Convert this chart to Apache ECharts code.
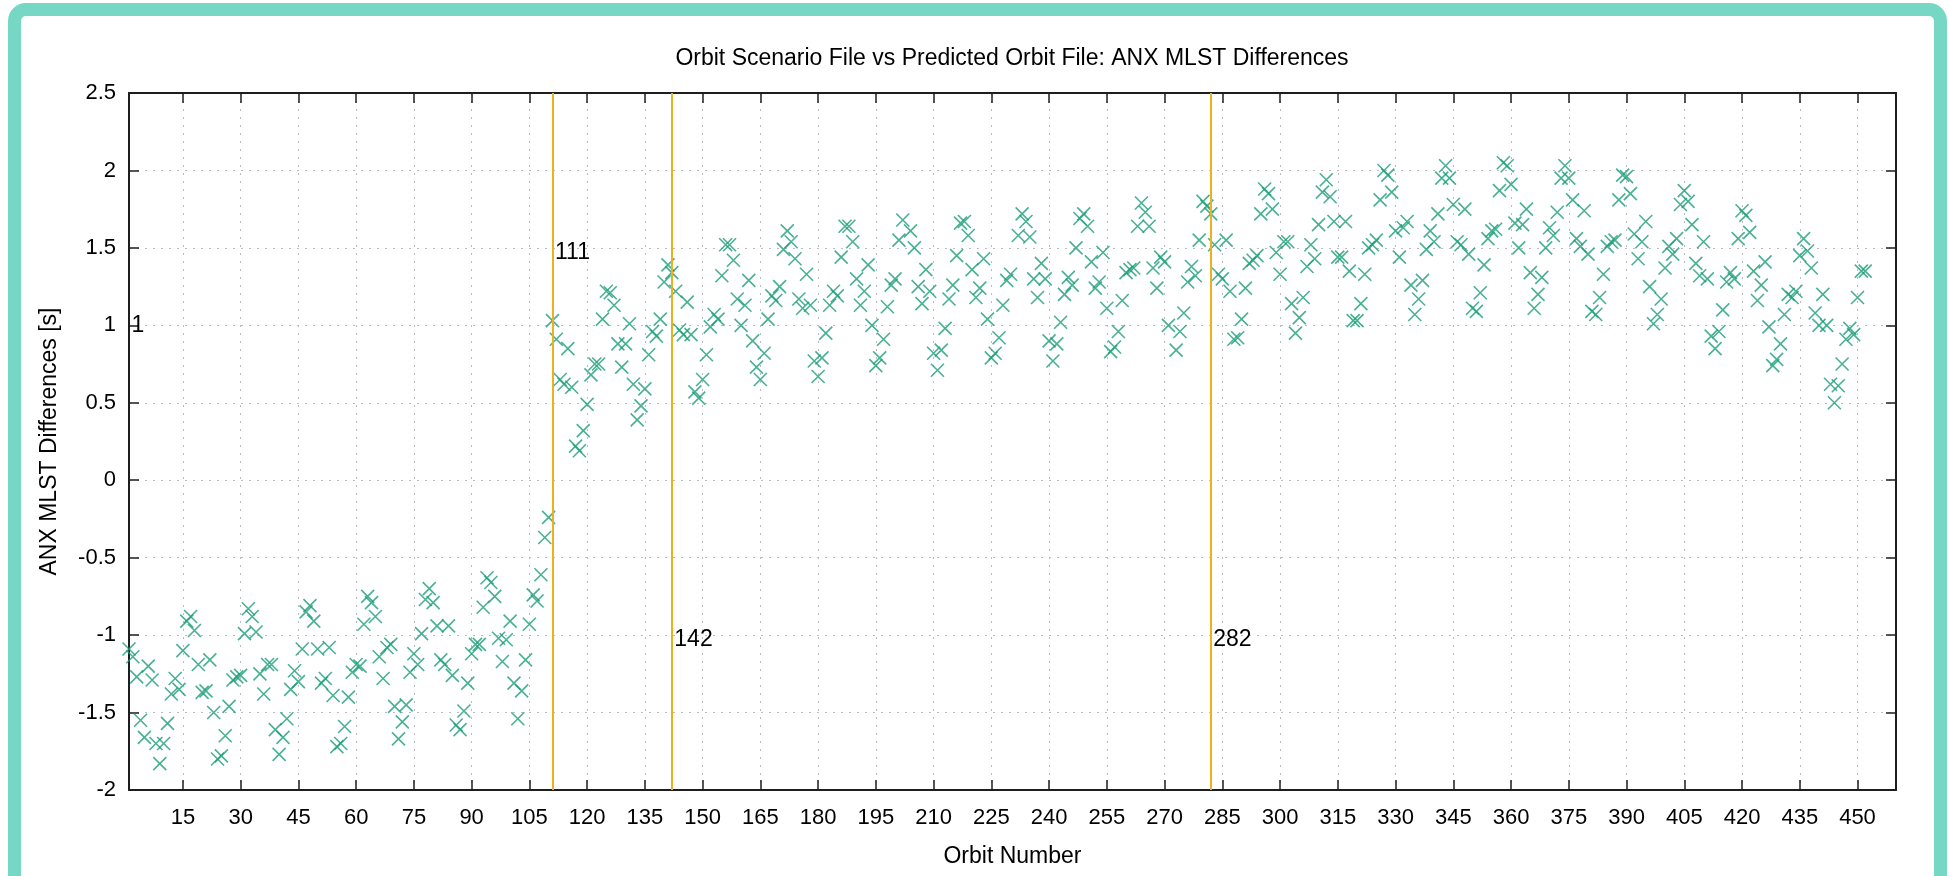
<!DOCTYPE html>
<html>
<head>
<meta charset="utf-8">
<title>ANX MLST Differences</title>
<script src="https://cdn.jsdelivr.net/npm/echarts@6/dist/echarts.min.js"></script>
<style>
  html, body { margin: 0; padding: 0; background: #fff; overflow: hidden; }
  #chart { width: 1949px; height: 876px; }
  #frame {
    position: absolute; left: 8px; top: 3px; width: 1939px; height: 890px;
    box-sizing: border-box; border: 13px solid #76d8c4; border-radius: 18px;
    pointer-events: none;
  }
</style>
</head>
<body>
<div id="chart"></div>
<div id="frame"></div>
<script>
// ANX MLST difference per orbit, starting at orbit 1 (null = no marker seen)
const firstOrbit = 1;
const mlstDiff = [
  -1.09, -1.14, -1.27, -1.55, -1.66, -1.20, -1.29, -1.70, -1.83, -1.70,
  -1.57, -1.38, -1.28, -1.35, -1.10, -0.91, -0.88, -0.97, -1.19, -1.37,
  -1.36, -1.16, -1.50, -1.80, -1.78, -1.65, -1.46, -1.29, -1.27, -1.26,
  -0.99, -0.83, -0.88, -0.98, -1.25, -1.38, -1.19, -1.19, -1.61, -1.77,
  -1.66, -1.54, -1.35, -1.23, -1.30, -1.09, -0.85, -0.81, -0.91, -1.09,
  -1.31, -1.28, -1.08, -1.39, -1.72, -1.70, -1.59, -1.40, -1.24, -1.19,
  -1.20, -0.93, -0.75, -0.79, -0.88, -1.14, -1.28, -1.08, -1.06, -1.46,
  -1.67, -1.56, -1.45, -1.24, -1.12, -1.19, -0.99, -0.77, -0.70, -0.79,
  -0.94, -1.16, -1.19, -0.94, -1.26, -1.58, -1.61, -1.49, -1.31, -1.12,
  -1.06, -1.06, -0.82, -0.63, -0.66, -0.75, -1.02, -1.17, -1.03, -0.91,
  -1.31, -1.54, -1.36, -1.16, -0.93, -0.74, -0.78, -0.61, -0.37, -0.24,
  1.03, 0.91, 0.65, 0.62, 0.85, 0.60, 0.22, 0.19, 0.32, 0.49,
  0.68, 0.75, 0.75, 1.04, 1.22, 1.21, 1.13, 0.88, 0.73, 0.88,
  1.01, 0.62, 0.39, 0.48, 0.59, 0.81, 0.96, 0.93, 1.04, 1.28,
  1.39, 1.34, 1.22, 0.97, 0.94, 1.15, 0.94, 0.57, 0.53, 0.65,
  0.81, 0.99, 1.07, 1.04, 1.32, 1.52, 1.52, 1.42, 1.17, 1.00,
  1.13, 1.29, 0.90, 0.73, 0.65, 0.82, 1.04, 1.19, 1.16, 1.25,
  1.49, 1.61, 1.54, 1.43, 1.17, 1.11, 1.33, 1.13, 0.77, 0.67,
  0.79, 0.95, 1.13, 1.22, 1.19, 1.44, 1.64, 1.64, 1.54, 1.30,
  1.13, 1.22, 1.39, 1.00, 0.74, 0.79, 0.91, 1.12, 1.26, 1.30,
  1.55, 1.68, null, 1.61, 1.50, 1.25, 1.14, 1.36, 1.22, 0.82,
  0.71, 0.84, 0.98, 1.17, 1.26, 1.45, 1.66, 1.67, 1.58, 1.36,
  1.18, 1.24, 1.43, 1.04, 0.79, 0.82, 0.92, 1.13, 1.29, 1.33,
  null, 1.58, 1.72, 1.67, 1.57, 1.30, 1.18, 1.40, 1.30, 0.90,
  0.77, 0.88, 1.02, 1.20, 1.31, 1.26, 1.50, 1.69, 1.72, 1.64,
  1.41, 1.24, 1.28, 1.47, 1.11, 0.83, 0.86, 0.96, 1.16, 1.34,
  1.36, 1.37, 1.64, 1.79, 1.73, 1.64, 1.37, 1.24, 1.44, 1.41,
  1.00, null, 0.84, 0.96, 1.08, 1.28, 1.38, 1.32, 1.55, 1.80,
  1.77, 1.72, 1.52, 1.33, 1.30, 1.55, 1.22, 0.91, 0.92, 1.04,
  1.24, 1.40, 1.42, 1.45, 1.72, 1.88, 1.85, 1.75, 1.47, 1.33,
  1.54, 1.54, 1.14, 0.95, 1.05, 1.18, 1.38, 1.52, 1.43, 1.65,
  1.86, 1.94, 1.83, 1.67, 1.44, 1.44, 1.67, 1.35, 1.03, 1.03,
  1.14, 1.33, 1.50, 1.52, 1.55, 1.81, 2.00, 1.97, 1.86, 1.61,
  1.44, 1.63, 1.67, 1.26, 1.07, 1.17, 1.29, 1.49, 1.61, 1.54,
  1.72, 1.95, 2.03, 1.95, 1.78, 1.54, 1.52, 1.75, 1.46, 1.11,
  1.09, 1.21, 1.39, 1.56, 1.61, 1.62, 1.87, 2.05, 2.03, 1.91,
  1.66, 1.50, 1.65, 1.75, 1.34, 1.11, 1.20, 1.31, 1.50, 1.63,
  1.58, 1.73, 1.95, 2.03, 1.95, 1.81, 1.56, 1.51, 1.74, 1.46,
  1.09, 1.07, 1.18, 1.33, 1.51, 1.54, 1.55, 1.81, 1.97, 1.96,
  1.85, 1.59, 1.43, 1.54, 1.67, 1.25, 1.01, 1.07, 1.17, 1.37,
  1.51, 1.46, 1.56, 1.78, 1.87, 1.80, 1.65, 1.40, 1.32, 1.54,
  1.30, 0.93, 0.85, 0.96, 1.10, 1.28, 1.34, 1.30, 1.56, 1.74,
  1.71, 1.60, 1.35, 1.16, 1.26, 1.41, 0.99, 0.74, 0.78, 0.88,
  1.07, 1.20, 1.18, 1.22, 1.45, 1.56, 1.48, 1.37, 1.08, 1.00,
  1.20, 1.00, 0.62, 0.50, 0.61, 0.75, 0.91, 0.98, 0.94, 1.18,
  1.35, 1.35
];

// marked orbits (vertical lines) and the height of their text labels
const eventOrbits = [1, 111, 142, 282];
const eventLabelY = [1.0, 1.47, -1.03, -1.03];

const xTicks = [15, 30, 45, 60, 75, 90, 105, 120, 135, 150, 165, 180, 195, 210, 225,
                240, 255, 270, 285, 300, 315, 330, 345, 360, 375, 390, 405, 420, 435, 450];
const xMin = 1, xMax = 460;
const yMin = -2, yMax = 2.5, yStep = 0.5;

const axisColor = '#1e1e1e';
const gridStyle = { color: '#bcbcbc', width: 1, type: [2, 6] };
const fontFamily = '"Liberation Sans", Arial, Helvetica, sans-serif';

const points = mlstDiff
  .map((v, i) => [firstOrbit + i, v])
  .filter(p => p[1] !== null);

const chart = echarts.init(document.getElementById('chart'));

chart.setOption({
  animation: false,
  backgroundColor: '#fff',
  textStyle: { fontFamily: fontFamily },
  title: {
    text: 'Orbit Scenario File vs Predicted Orbit File: ANX MLST Differences',
    left: 1012,
    top: 47,
    padding: 0,
    textAlign: 'center',
    textStyle: { fontSize: 23, fontWeight: 'normal', color: '#000', fontFamily: fontFamily }
  },
  grid: { left: 129, right: 53, top: 93, bottom: 86 },
  xAxis: [
    {
      type: 'value', min: xMin, max: xMax, position: 'bottom',
      name: 'Orbit Number', nameLocation: 'middle', nameGap: 55,
      nameTextStyle: { fontSize: 23, color: '#000' },
      axisLine: { onZero: false, lineStyle: { color: axisColor, width: 2 } },
      axisTick: { inside: true, length: 10, customValues: xTicks, lineStyle: { color: axisColor, width: 1.5 } },
      axisLabel: { customValues: xTicks, fontSize: 22, color: '#000', margin: 17 },
      splitLine: { show: true, lineStyle: gridStyle }
    },
    {
      type: 'value', min: xMin, max: xMax, position: 'top',
      axisLine: { onZero: false, lineStyle: { color: axisColor, width: 2 } },
      axisTick: { inside: true, length: 10, customValues: xTicks, lineStyle: { color: axisColor, width: 1.5 } },
      axisLabel: { show: false },
      splitLine: { show: false }
    }
  ],
  yAxis: [
    {
      type: 'value', min: yMin, max: yMax, interval: yStep, position: 'left',
      name: 'ANX MLST Differences [s]', nameLocation: 'middle', nameGap: 68,
      nameTextStyle: { fontSize: 23, color: '#000' },
      axisLine: { onZero: false, lineStyle: { color: axisColor, width: 2 } },
      axisTick: { inside: true, length: 10, lineStyle: { color: axisColor, width: 1.5 } },
      axisLabel: { fontSize: 22, color: '#000', margin: 13 },
      splitLine: { show: true, lineStyle: gridStyle }
    },
    {
      type: 'value', min: yMin, max: yMax, interval: yStep, position: 'right',
      axisLine: { onZero: false, lineStyle: { color: axisColor, width: 2 } },
      axisTick: { inside: true, length: 10, lineStyle: { color: axisColor, width: 1.5 } },
      axisLabel: { show: false },
      splitLine: { show: false }
    }
  ],
  series: [
    {
      name: 'ANX MLST',
      type: 'scatter',
      data: points,
      symbol: 'path://M0,0L10,10M10,0L0,10',
      symbolSize: 13,
      itemStyle: { color: 'transparent', borderColor: '#1b9e77', borderWidth: 1.6 },
      emphasis: { disabled: true },
      silent: true,
      markLine: {
        silent: true,
        symbol: 'none',
        label: { show: false },
        lineStyle: { color: '#edb120', width: 2, type: 'solid' },
        // the line at the first orbit sits under the left axis
        data: eventOrbits.filter(o => o > xMin).map(o => ({ xAxis: o }))
      }
    },
    {
      name: 'labels',
      type: 'scatter',
      data: eventOrbits.map((o, i) => [o, eventLabelY[i]]),
      symbolSize: 1,
      itemStyle: { color: 'transparent' },
      silent: true,
      z: 5,
      label: {
        show: true,
        position: 'right',
        distance: 2,
        fontSize: 23,
        color: '#000',
        opacity: 1,
        formatter: p => String(p.value[0])
      }
    }
  ]
});
</script>
</body>
</html>
